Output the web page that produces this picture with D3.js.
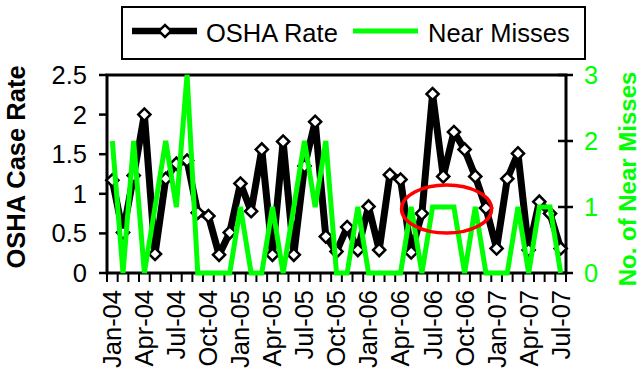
<!DOCTYPE html>
<html>
<head>
<meta charset="utf-8">
<script src="https://cdn.jsdelivr.net/npm/d3@7"></script>
<style>
  body { margin: 0; background: #fff; }
  svg text { font-family: 'Liberation Sans', Arial, sans-serif; }
</style>
</head>
<body>
<div id="chart"></div>
<script>
const months = [
  'Jan-04', 'Feb-04', 'Mar-04', 'Apr-04', 'May-04', 'Jun-04', 'Jul-04', 'Aug-04', 'Sep-04', 'Oct-04', 'Nov-04', 'Dec-04',
  'Jan-05', 'Feb-05', 'Mar-05', 'Apr-05', 'May-05', 'Jun-05', 'Jul-05', 'Aug-05', 'Sep-05', 'Oct-05', 'Nov-05', 'Dec-05',
  'Jan-06', 'Feb-06', 'Mar-06', 'Apr-06', 'May-06', 'Jun-06', 'Jul-06', 'Aug-06', 'Sep-06', 'Oct-06', 'Nov-06', 'Dec-06',
  'Jan-07', 'Feb-07', 'Mar-07', 'Apr-07', 'May-07', 'Jun-07', 'Jul-07'
]

const oshaRate = [
  1.17, 0.51, 1.23, 2.0, 0.24, 1.19, 1.38, 1.42, 0.76, 0.72, 0.23, 0.51,
  1.13, 0.78, 1.56, 0.23, 1.66, 0.23, 1.35, 1.91, 0.46, 0.27, 0.58, 0.29,
  0.84, 0.29, 1.24, 1.18, 0.26, 0.75, 2.26, 1.22, 1.78, 1.56, 1.22, 0.82,
  0.31, 1.19, 1.51, 0.29, 0.9, 0.75, 0.31
]

const nearMisses = [
  2, 0, 2, 0, 1, 2, 1, 3, 0, 0, 0, 0,
  1, 0, 0, 1, 0, 1, 2, 1, 2, 0, 0, 1,
  0, 0, 0, 0, 1, 0, 1, 1, 1, 0, 1, 0,
  0, 0, 1, 0, 1, 1, 0
]

const leftTicks = [0, 0.5, 1, 1.5, 2, 2.5]
const rightTicks = [0, 1, 2, 3]
const labelMonths = months.filter((m, i) => i % 3 === 0)

// red circle drawn round the Jul-06 .. Oct-06 run of near misses
const highlight = { from: 'Jul-06', to: 'Oct-06', value: 1 }

// sizes
const width = 644
const height = 375
const plot = { left: 107, right: 566, top: 75, bottom: 273 }
const font = 25.5

const svg = d3.select('#chart')
  .append('svg')
  .attr('width', width)
  .attr('height', height)

// scales
const x = d3.scaleBand()
  .domain(months)
  .range([plot.left, plot.right])
const cx = d => x(d) + x.bandwidth() / 2
const yLeft = d3.scaleLinear().domain([0, 2.5]).range([plot.bottom, plot.top])
const yRight = d3.scaleLinear().domain([0, 3]).range([plot.bottom, plot.top])

// x axis: a tick at every category boundary, a label every third month
const xAxis = svg.append('g')
const bounds = months.map(m => x(m)).concat([plot.right])
xAxis.selectAll('line.tick')
  .data(bounds)
  .enter()
  .append('line')
  .attr('x1', d => d).attr('x2', d => d)
  .attr('y1', plot.bottom).attr('y2', plot.bottom + 9)
  .style('stroke', '#000')
  .style('stroke-width', 2)
xAxis.selectAll('text')
  .data(labelMonths)
  .enter()
  .append('text')
  .attr('transform', d => `translate(${cx(d)},${plot.bottom + 17}) rotate(-90)`)
  .attr('text-anchor', 'end')
  .attr('dy', '0.35em')
  .style('font-size', font + 'px')
  .text(d => d)

// left axis
const left = svg.append('g')
left.selectAll('line')
  .data(leftTicks)
  .enter()
  .append('line')
  .attr('x1', plot.left - 8).attr('x2', plot.left)
  .attr('y1', d => yLeft(d)).attr('y2', d => yLeft(d))
  .style('stroke', '#000')
  .style('stroke-width', 2.5)
left.selectAll('text')
  .data(leftTicks)
  .enter()
  .append('text')
  .attr('x', plot.left - 20)
  .attr('y', d => yLeft(d))
  .attr('dy', '0.35em')
  .attr('text-anchor', 'end')
  .style('font-size', font + 'px')
  .text(d => d)

// right axis
const right = svg.append('g')
right.selectAll('line')
  .data(rightTicks)
  .enter()
  .append('line')
  .attr('x1', plot.right - 8).attr('x2', plot.right + 7)
  .attr('y1', d => yRight(d)).attr('y2', d => yRight(d))
  .style('stroke', '#000')
  .style('stroke-width', 2.5)
right.selectAll('text')
  .data(rightTicks)
  .enter()
  .append('text')
  .attr('x', plot.right + 18)
  .attr('y', d => yRight(d))
  .attr('dy', '0.35em')
  .style('font-size', font + 'px')
  .style('fill', '#00ff00')
  .text(d => d)

// plot frame (left, bottom, right axes and top edge)
svg.append('rect')
  .attr('x', plot.left)
  .attr('y', plot.top)
  .attr('width', plot.right - plot.left)
  .attr('height', plot.bottom - plot.top)
  .style('fill', 'none')
  .style('stroke', '#000')
  .style('stroke-width', 3)

// axis titles
svg.append('text')
  .attr('transform', `translate(16,${(plot.top + plot.bottom) / 2 - 7}) rotate(-90)`)
  .attr('text-anchor', 'middle')
  .attr('dy', '0.35em')
  .style('font-size', font + 'px')
  .style('font-weight', 'bold')
  .text('OSHA Case Rate')
svg.append('text')
  .attr('transform', `translate(628,${(plot.top + plot.bottom) / 2 + 5}) rotate(-90)`)
  .attr('text-anchor', 'middle')
  .attr('dy', '0.35em')
  .style('font-size', '24px')
  .style('font-weight', 'bold')
  .style('fill', '#00ff00')
  .text('No. of Near Misses')

// osha rate line + diamonds
const diamond = d3.symbol().type(d3.symbolSquare).size(74)
svg.append('path')
  .datum(months)
  .attr('d', d3.line().x(cx).y((d, i) => yLeft(oshaRate[i])))
  .style('fill', 'none')
  .style('stroke', '#000')
  .style('stroke-width', 7)
  .style('stroke-linejoin', 'round')
svg.append('g')
  .selectAll('path')
  .data(months)
  .enter()
  .append('path')
  .attr('d', diamond)
  .attr('transform', (d, i) => `translate(${cx(d)},${yLeft(oshaRate[i])}) rotate(45)`)
  .style('fill', '#fff')
  .style('stroke', '#000')
  .style('stroke-width', 2.5)

// near misses line on the secondary axis
svg.append('path')
  .datum(months)
  .attr('d', d3.line().x(cx).y((d, i) => yRight(nearMisses[i])))
  .style('fill', 'none')
  .style('stroke', '#00ff00')
  .style('stroke-width', 5)
  .style('stroke-linejoin', 'miter')

// red highlight ellipse
const hx1 = cx(highlight.from)
const hx2 = cx(highlight.to)
svg.append('ellipse')
  .attr('cx', (hx1 + hx2) / 2 - 2)
  .attr('cy', yRight(highlight.value) + 2)
  .attr('rx', (hx2 - hx1) / 2 + 29)
  .attr('ry', 24)
  .style('fill', 'none')
  .style('stroke', '#ff0000')
  .style('stroke-width', 3.5)

// legend
const legend = svg.append('g')
legend.append('rect')
  .attr('x', 122).attr('y', 7)
  .attr('width', 463).attr('height', 52)
  .style('fill', '#fff')
  .style('stroke', '#000')
  .style('stroke-width', 2)
legend.append('line')
  .attr('x1', 132).attr('x2', 197)
  .attr('y1', 31).attr('y2', 31)
  .style('stroke', '#000')
  .style('stroke-width', 6.5)
legend.append('path')
  .attr('d', diamond)
  .attr('transform', 'translate(165,31) rotate(45)')
  .style('fill', '#fff')
  .style('stroke', '#000')
  .style('stroke-width', 2.5)
legend.append('text')
  .attr('x', 206).attr('y', 42)
  .style('font-size', font + 'px')
  .text('OSHA Rate')
legend.append('line')
  .attr('x1', 353).attr('x2', 418)
  .attr('y1', 31).attr('y2', 31)
  .style('stroke', '#00ff00')
  .style('stroke-width', 5)
legend.append('text')
  .attr('x', 428).attr('y', 42)
  .style('font-size', font + 'px')
  .text('Near Misses')
</script>
</body>
</html>
